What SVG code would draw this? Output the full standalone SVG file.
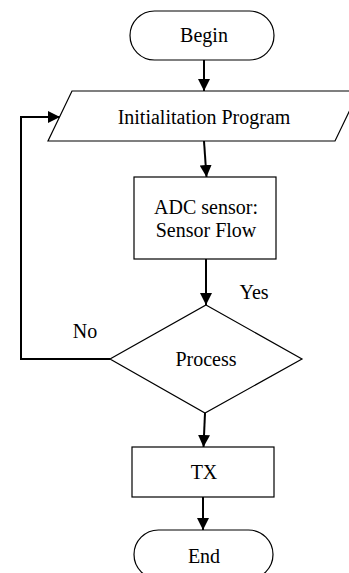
<svg xmlns="http://www.w3.org/2000/svg" width="349" height="573" viewBox="0 0 349 573">
<style>
.shape{fill:#fff;stroke:#000;stroke-width:1.2}
.conn{fill:none;stroke:#000;stroke-width:2}
text{font-family:"Liberation Serif","Times New Roman",serif;font-size:20px;fill:#000;text-anchor:middle;dominant-baseline:central}
</style>
<defs>
<marker id="arr" markerWidth="12" markerHeight="12" refX="12" refY="6" orient="auto" markerUnits="userSpaceOnUse">
<path d="M0,0 L12,6 L0,12 Z" fill="#000"/>
</marker>
</defs>
<rect width="349" height="573" fill="#fff"/>
<g id="connectors">
<line class="conn" x1="204" y1="60" x2="204" y2="91" marker-end="url(#arr)"/>
<line class="conn" x1="204" y1="141" x2="206.5" y2="177" marker-end="url(#arr)"/>
<line class="conn" x1="206" y1="259" x2="206" y2="305" marker-end="url(#arr)"/>
<line class="conn" x1="205" y1="413" x2="203.5" y2="447" marker-end="url(#arr)"/>
<line class="conn" x1="203" y1="497" x2="203" y2="530" marker-end="url(#arr)"/>
<polyline class="conn" points="110,359 21,359 21,117 60,117" marker-end="url(#arr)"/>
</g>
<g id="begin">
<rect class="shape" x="130" y="11" width="144" height="49" rx="24.5"/>
<text x="204" y="35">Begin</text>
</g>
<g id="init">
<polygon class="shape" points="72,91 359,91 335,141 48,141"/>
<text x="204" y="117">Initialitation Program</text>
</g>
<g id="adc">
<rect class="shape" x="134" y="177" width="142" height="82"/>
<text x="206" y="207">ADC sensor:</text>
<text x="206" y="230">Sensor Flow</text>
</g>
<g id="process">
<polygon class="shape" points="206,305 302,359 205,413 110,359"/>
<text x="206" y="359">Process</text>
</g>
<g id="labels">
<text x="254" y="292">Yes</text>
<text x="85" y="331">No</text>
</g>
<g id="tx">
<rect class="shape" x="132" y="447" width="142" height="50"/>
<text x="204" y="472">TX</text>
</g>
<g id="end">
<rect class="shape" x="134" y="530" width="139" height="49" rx="24.5"/>
<text x="204" y="556">End</text>
</g>
</svg>
